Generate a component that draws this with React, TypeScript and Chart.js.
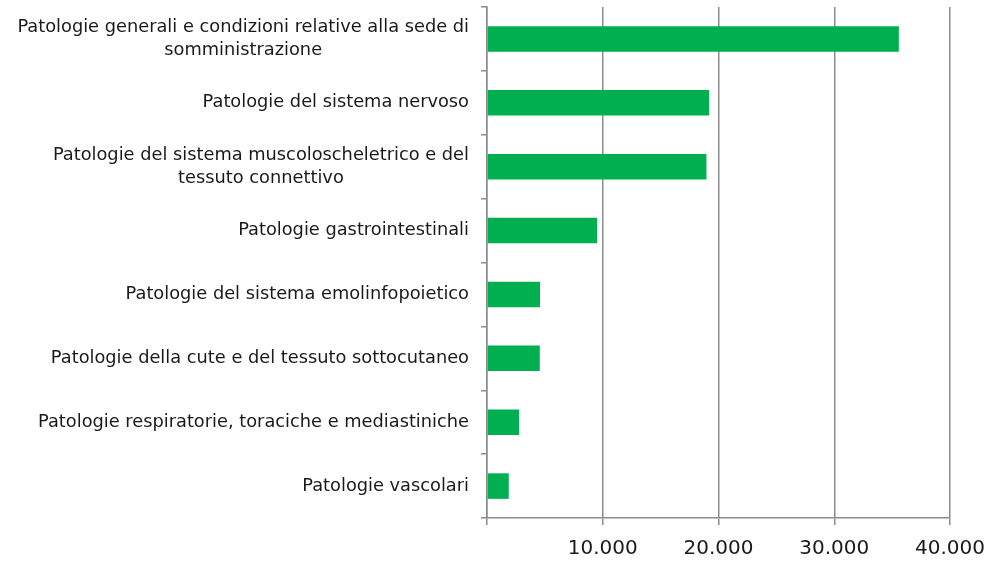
import React, { useEffect, useRef } from "react";
import { Chart, registerables } from "chart.js";

Chart.register(...registerables);

const categories: string[][] = [
  ["Patologie generali e condizioni relative alla sede di", "somministrazione"],
  ["Patologie del sistema nervoso"],
  ["Patologie del sistema muscoloscheletrico e del", "tessuto connettivo"],
  ["Patologie gastrointestinali"],
  ["Patologie del sistema emolinfopoietico"],
  ["Patologie della cute e del tessuto sottocutaneo"],
  ["Patologie respiratorie, toraciche e mediastiniche"],
  ["Patologie vascolari"],
];

const values: number[] = [35580, 19190, 18960, 9510, 4580, 4560, 2770, 1880];

const xTickValues: number[] = [0, 10000, 20000, 30000, 40000];
const xTickLabels: string[] = ["", "10.000", "20.000", "30.000", "40.000"];

const FONT = "'DejaVu Sans', sans-serif";
const LABEL_SIZE = 17.8;
const LINE_H = 23;

const labelPlugin = {
  id: "centeredLabels",
  afterDraw(chart: any) {
    const ctx = chart.ctx;
    const ys = chart.scales.y;
    ctx.save();
    ctx.font = `${LABEL_SIZE}px ${FONT}`;
    ctx.fillStyle = "#1a1a1a";
    ctx.textBaseline = "middle";
    ctx.textAlign = "center";
    const rightX = ys.right - 18;
    categories.forEach((lines, i) => {
      const maxW = Math.max(...lines.map((l) => ctx.measureText(l).width));
      const cx = rightX - maxW / 2;
      const cy = ys.getPixelForTick(i);
      lines.forEach((l, j) => {
        ctx.fillText(l, cx, cy + (j - (lines.length - 1) / 2) * LINE_H);
      });
    });
    ctx.restore();
  },
};

export default function App() {
  const ref = useRef<HTMLCanvasElement | null>(null);
  useEffect(() => {
    if (!ref.current) return;
    const chart = new Chart(ref.current, {
      type: "bar",
      data: {
        labels: categories.map((c) => c.join(" ")),
        datasets: [
          {
            data: values,
            backgroundColor: "#00B050",
            borderWidth: 0,
            barPercentage: 0.4,
            categoryPercentage: 1,
          },
        ],
      },
      options: {
        indexAxis: "y",
        animation: false,
        responsive: true,
        maintainAspectRatio: false,
        layout: { padding: { top: 7, right: 40, left: 0, bottom: 0 } },
        plugins: { legend: { display: false }, tooltip: { enabled: false } },
        scales: {
          x: {
            min: 0,
            max: 40000,
            afterBuildTicks(scale: any) {
              scale.ticks = xTickValues.map((v) => ({ value: v }));
            },
            afterFit(scale: any) {
              scale.height = 45;
              scale.paddingLeft = 0;
              scale.paddingRight = 0;
            },
            ticks: {
              callback: (_v: any, i: number) => xTickLabels[i],
              font: { family: FONT, size: 20 },
              color: "#1a1a1a",
              padding: 12,
              maxRotation: 0,
            },
            grid: { color: "#8c8c8c", lineWidth: 1.5, tickLength: 7 },
            border: { color: "#8c8c8c", width: 1.5 },
          },
          y: {
            afterFit(scale: any) {
              scale.width = 487;
              scale.paddingTop = 0;
              scale.paddingBottom = 0;
            },
            ticks: { color: "transparent", font: { family: FONT, size: 10 } },
            grid: { drawOnChartArea: false, color: "#8c8c8c", lineWidth: 1.5, tickLength: 6, offset: true },
            border: { color: "#8c8c8c", width: 1.5 },
          },
        },
      },
      plugins: [labelPlugin],
    });
    return () => chart.destroy();
  }, []);
  return (
    <div style={{ position: "fixed", left: 0, top: 0, width: 990, height: 563 }}>
      <canvas ref={ref} />
    </div>
  );
}
